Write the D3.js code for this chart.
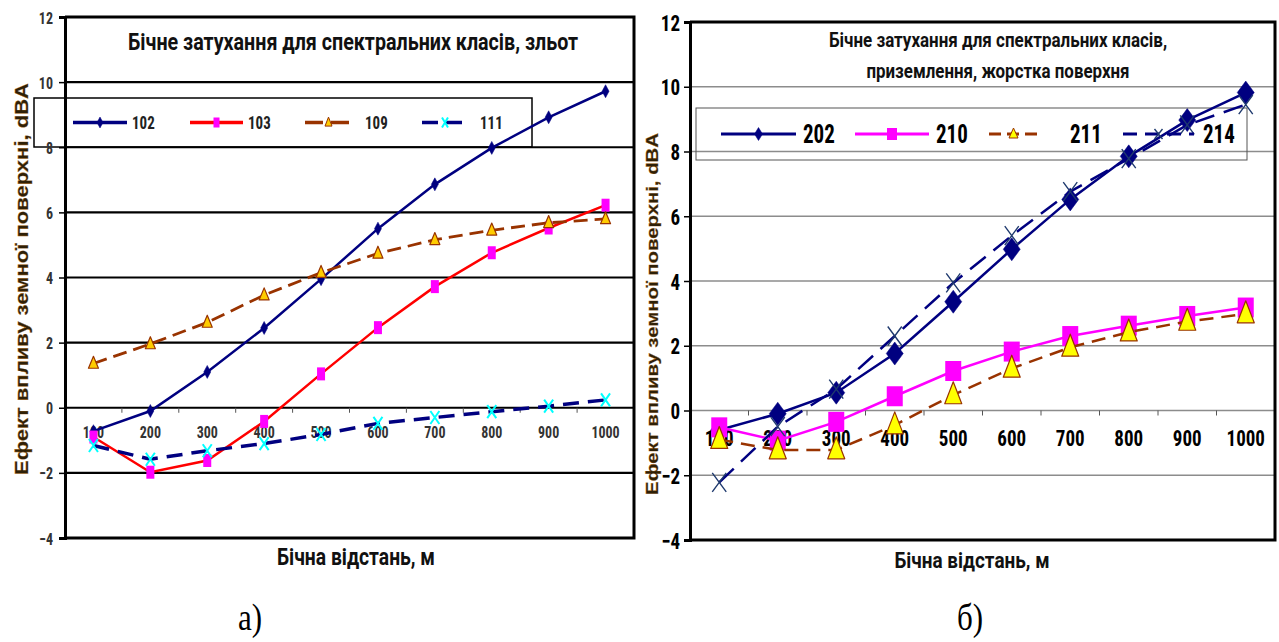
<!DOCTYPE html>
<html><head><meta charset="utf-8">
<script src="https://cdn.jsdelivr.net/npm/d3@7"></script>
<style>
html,body{margin:0;padding:0;background:#fff;}
svg{display:block;}
</style></head>
<body>
<svg id="c" width="1279" height="642"></svg>
<script>
// ---------- data ----------
const categories = [100,200,300,400,500,600,700,800,900,1000];
const yTicks = [-4,-2,0,2,4,6,8,10,12];

// panel a) – зльот
const s102 = [-0.72,-0.1,1.1,2.45,3.95,5.5,6.86,7.98,8.92,9.72];
const s103 = [-0.9,-1.98,-1.62,-0.42,1.04,2.46,3.72,4.76,5.52,6.22];
const s109 = [1.36,1.96,2.62,3.46,4.15,4.74,5.16,5.45,5.68,5.8];
const s111 = [-1.16,-1.58,-1.32,-1.1,-0.82,-0.48,-0.3,-0.12,0.05,0.24];
const namesA = ["102","103","109","111"];
const titleA = ["Бічне затухання для спектральних класів, зльот"];

// panel б) – приземлення, жорстка поверхня
const s202 = [-0.6,-0.1,0.55,1.76,3.36,4.98,6.52,7.85,8.97,9.82];
const s210 = [-0.52,-0.93,-0.35,0.44,1.22,1.82,2.3,2.62,2.92,3.18];
const s211 = [-0.9,-1.22,-1.22,-0.45,0.48,1.3,1.95,2.42,2.75,2.98];
const s214 = [-2.22,-0.5,0.66,2.3,3.94,5.4,6.76,7.78,8.82,9.45];
const namesB = ["202","210","211","214"];
const titleB = ["Бічне затухання для спектральних класів,","приземлення, жорстка поверхня"];

const yTitle = "Ефект впливу земної поверхні, dBA";
const xTitle = "Бічна відстань, м";

const svg = d3.select("#c");
const NARROW = '"Liberation Sans Narrow","Arial Narrow","Roboto Condensed",sans-serif';
const TITLEF = 'Roboto,"Open Sans",sans-serif';
const SY = 1.2; // vertical stretch of the original figure

function fit(sel, target){
  const w = sel.node().getComputedTextLength();
  const fs = parseFloat(sel.attr("font-size"));
  sel.attr("font-size", fs*target/w);
}

function marker(g, type, x, y, w, h, fill, stroke, sw){
  if(type==="diamond"){
    g.append("path").attr("d",`M${x},${y-h/2}L${x+w/2},${y}L${x},${y+h/2}L${x-w/2},${y}Z`)
      .attr("fill",fill).attr("stroke",stroke).attr("stroke-width",sw);
  } else if(type==="square"){
    g.append("rect").attr("x",x-w/2).attr("y",y-h/2).attr("width",w).attr("height",h)
      .attr("fill",fill).attr("stroke",stroke).attr("stroke-width",sw);
  } else if(type==="triangle"){
    g.append("path").attr("d",`M${x},${y-h*0.6}L${x+w/2},${y+h*0.4}L${x-w/2},${y+h*0.4}Z`)
      .attr("fill",fill).attr("stroke",stroke).attr("stroke-width",sw).attr("stroke-linejoin","round");
  } else if(type==="x"){
    g.append("path").attr("d",`M${x-w/2},${y-h/2}L${x+w/2},${y+h/2}M${x-w/2},${y+h/2}L${x+w/2},${y-h/2}`)
      .attr("stroke",stroke).attr("stroke-width",sw).attr("fill","none");
  }
}

function panel(cfg){
  const g = svg.append("g");
  const x = d3.scaleBand().domain(categories).range([cfg.left,cfg.right]);
  const y = d3.scaleLinear().domain([-4,12]).range([cfg.bottom,cfg.top]);
  const cx = d => x(d)+x.bandwidth()/2;

  // gridlines
  g.append("g").selectAll("line").data(yTicks.filter(t=>t>-4 && t<12)).join("line")
    .attr("x1",cfg.left).attr("x2",cfg.right).attr("y1",d=>y(d)).attr("y2",d=>y(d))
    .attr("stroke",cfg.gridColor).attr("stroke-width",cfg.gridWidth);

  // legend box (transparent)
  const L = cfg.legend;
  g.append("rect").attr("x",L.x).attr("y",L.y).attr("width",L.w).attr("height",L.h)
    .attr("fill","none").attr("stroke",L.stroke).attr("stroke-width",L.sw);

  // border
  g.append("path").attr("d",`M${cfg.left},${y(12)}H${cfg.right}V${y(-4)}H${cfg.left}`)
    .attr("fill","none").attr("stroke","#000").attr("stroke-width",3);

  // y axis
  const ya = d3.axisLeft(y).tickValues(yTicks).tickSize(cfg.yTickLen).tickFormat(d3.format("d"));
  const yg = g.append("g").attr("transform",`translate(${cfg.left},0)`).call(ya);
  yg.select(".domain").attr("stroke","#000").attr("stroke-width",3);
  yg.selectAll(".tick line").attr("stroke","#000").attr("stroke-width",1.5);
  yg.selectAll(".tick text").attr("font-family",NARROW).attr("font-size",cfg.tickSize)
    .attr("font-weight","bold").attr("fill",cfg.tickColor)
    .attr("x",0).attr("y",0).attr("dy","0.36em")
    .attr("transform",`translate(${cfg.yLabelDx},0) scale(1,${SY})`);

  // x axis at zero
  const xa = d3.axisBottom(x).tickSize(0).tickFormat(d=>d);
  const xg = g.append("g").attr("transform",`translate(0,${y(0)})`).call(xa);
  xg.select(".domain").remove();
  xg.selectAll(".tick text").attr("font-family",NARROW).attr("font-size",cfg.tickSize)
    .attr("font-weight","bold").attr("fill",cfg.tickColor)
    .attr("x",0).attr("y",0).attr("dy","0.36em")
    .attr("transform",`translate(0,${cfg.xLabelDy}) scale(1,${SY})`);
  // boundary ticks
  g.append("g").selectAll("line").data(categories.slice(1)).join("line")
    .attr("x1",d=>x(d)).attr("x2",d=>x(d)).attr("y1",y(0)).attr("y2",y(0)+5)
    .attr("stroke","#555").attr("stroke-width",1);

  // series
  cfg.series.forEach(s=>{
    const line = d3.line().x((d,i)=>cx(categories[i])).y(d=>y(d));
    g.append("path").datum(s.values).attr("d",line).attr("fill","none")
      .attr("stroke",s.color).attr("stroke-width",s.width)
      .attr("stroke-dasharray",s.dash||null);
    s.values.forEach((v,i)=>marker(g,s.marker,cx(categories[i]),y(v),s.mw,s.mh,s.mfill,s.mstroke,s.msw));
  });

  // legend entries
  cfg.series.forEach((s,i)=>{
    const it = L.items[i], ly = L.y+L.h/2;
    g.append("line").attr("x1",it[0]).attr("x2",it[1]).attr("y1",ly).attr("y2",ly)
      .attr("stroke",s.color).attr("stroke-width",L.lw).attr("stroke-dasharray",s.ldash||null);
    marker(g,s.marker,(it[0]+it[1])/2,ly,s.lmw,s.lmh,s.mfill,s.mstroke,s.lmsw);
    g.append("text").attr("transform",`translate(${it[2]},${ly}) scale(1,${SY})`).attr("dy","0.36em")
      .attr("font-family",NARROW).attr("font-size",L.fs).attr("font-weight","bold").attr("fill",L.color)
      .text(s.name);
  });

  // title
  cfg.title.forEach((t,i)=>{
    const tt = g.append("text").attr("transform",`translate(${cfg.titleX},${cfg.titleY[i]}) scale(1,${SY})`)
      .attr("text-anchor","middle")
      .attr("font-family",TITLEF).attr("font-size",16).attr("font-weight","bold").attr("fill","#111")
      .text(t);
    fit(tt, cfg.titleW[i]);
  });
  // y title
  const yt = g.append("text").attr("transform",`translate(${cfg.yTitleX},${cfg.yTitleY}) rotate(-90) scale(${SY},1)`)
    .attr("text-anchor","middle").attr("font-family","Liberation Sans, Arial, sans-serif")
    .attr("font-size",18).attr("font-weight","bold").attr("fill","#2e2008")
    .attr("stroke","#a86a18").attr("stroke-width",0.3).text(yTitle);
  fit(yt, cfg.yTitleLen/SY);
  // x title
  const xt = g.append("text").attr("transform",`translate(${cfg.xTitleX},${cfg.xTitleY}) scale(1,${SY})`)
    .attr("text-anchor","middle")
    .attr("font-family",TITLEF).attr("font-size",16).attr("font-weight","bold").attr("fill","#111")
    .text(xTitle);
  fit(xt, cfg.xTitleW);
  // caption
  g.append("text").attr("transform",`translate(${cfg.capX},630) scale(1,${SY})`).attr("text-anchor","middle")
    .attr("font-family","Liberation Serif, Times New Roman, serif").attr("font-size",31).attr("fill","#000")
    .text(cfg.caption);
}

panel({
  left:65,right:634,top:17,bottom:538,
  gridColor:"#000",gridWidth:2.2,
  tickSize:14,tickColor:"#333",yTickLen:6,yLabelDx:-12,xLabelDy:24,
  series:[
    {name:namesA[0],values:s102,color:"#000080",width:2.5,marker:"diamond",mw:7,mh:13,mfill:"#000080",mstroke:"#000080",msw:0.5,
      lmw:6,lmh:11,lmsw:0.5},
    {name:namesA[1],values:s103,color:"#ff0000",width:2.5,marker:"square",mw:8,mh:13,mfill:"#ff00ff",mstroke:"#ff00ff",msw:0,
      lmw:6,lmh:10,lmsw:0},
    {name:namesA[2],values:s109,color:"#993300",width:2.8,dash:"14,7",marker:"triangle",mw:10,mh:12,mfill:"#ffcc00",mstroke:"#993300",msw:1.2,
      ldash:"18,8",lmw:7,lmh:9,lmsw:1},
    {name:namesA[3],values:s111,color:"#000080",width:3.5,dash:"16,9",marker:"x",mw:9,mh:13,mfill:"none",mstroke:"#00ffff",msw:2,
      ldash:"16,8",lmw:6,lmh:10,lmsw:2}
  ],
  legend:{x:34,y:98,w:498,h:49,stroke:"#000",sw:1.5,lw:3.5,color:"#222",fs:15,
    items:[[73,127,132],[190,243,248],[305,352,365],[422,468,480]]},
  title:titleA,titleX:353,titleY:[50],titleW:[450],
  yTitleX:28,yTitleY:279,yTitleLen:392,
  xTitleX:356,xTitleY:565,xTitleW:158,
  capX:250,caption:"а)"
});

panel({
  left:690,right:1275,top:22,bottom:540,
  gridColor:"#8c8c8c",gridWidth:1.5,
  tickSize:19,tickColor:"#000",yTickLen:6,yLabelDx:-10,xLabelDy:27,
  series:[
    {name:namesB[0],values:s202,color:"#000080",width:2.5,marker:"diamond",mw:17,mh:23,mfill:"#000080",mstroke:"#000080",msw:0.5,
      lmw:8,lmh:13,lmsw:0.5},
    {name:namesB[1],values:s210,color:"#ff00ff",width:2.5,marker:"square",mw:16,mh:20,mfill:"#ff00ff",mstroke:"#ff00ff",msw:0,
      lmw:10,lmh:12,lmsw:0},
    {name:namesB[2],values:s211,color:"#993300",width:2.5,dash:"14,8",marker:"triangle",mw:17,mh:22,mfill:"#ffff00",mstroke:"#993300",msw:1.2,
      ldash:"12,6",lmw:9,lmh:10,lmsw:1},
    {name:namesB[3],values:s214,color:"#000080",width:2.5,dash:"20,10",marker:"x",mw:14,mh:19,mfill:"none",mstroke:"#1f3a6e",msw:1.4,
      ldash:"14,8",lmw:8,lmh:10,lmsw:1.4}
  ],
  legend:{x:696,y:108,w:551,h:52,stroke:"#555",sw:1,lw:3,color:"#000",fs:21,
    items:[[721,796,803],[855,929,936],[989,1038,1070],[1123,1194,1203]]},
  title:titleB,titleX:998,titleY:[47,78],titleW:[338,263],
  yTitleX:658,yTitleY:314,yTitleLen:362,
  xTitleX:972,xTitleY:568,xTitleW:155,
  capX:970,caption:"б)"
});
</script>
</body></html>
